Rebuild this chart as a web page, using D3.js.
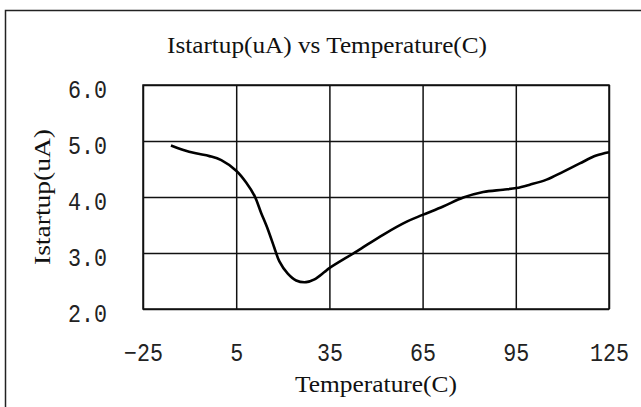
<!DOCTYPE html>
<html>
<head>
<meta charset="utf-8">
<script src="https://cdn.jsdelivr.net/npm/d3@7"></script>
<style>
  html, body { margin: 0; padding: 0; background: #fff; }
  svg { display: block; }
</style>
</head>
<body>
<svg id="chart" width="641" height="407"></svg>
<script>
// ---- data ----
const chartTitle = "Istartup(uA) vs Temperature(C)";
const xTitle = "Temperature(C)";
const yTitle = "Istartup(uA)";
const xTicks = [-25, 5, 35, 65, 95, 125];
const yTicks = [2, 3, 4, 5, 6];
const temperature = [-16, -12, -8, -3.6, 0.2, 5, 8.2, 10.9, 13, 15.2, 17.3, 18.9, 21.6, 24.3, 27.5, 30.2, 33.4, 35, 43.8, 52.4, 59.9, 65, 71.6, 78.1, 84.5, 90.9, 95.2, 99.5, 104.9, 110.2, 115.6, 120.9, 125];
const istartup = [4.92, 4.84, 4.78, 4.73, 4.66, 4.47, 4.26, 4.02, 3.72, 3.42, 3.09, 2.85, 2.63, 2.51, 2.48, 2.53, 2.66, 2.73, 3.03, 3.33, 3.56, 3.68, 3.83, 3.99, 4.09, 4.13, 4.16, 4.22, 4.31, 4.45, 4.60, 4.74, 4.80];

// ---- layout ----
const svg = d3.select("#chart");
const L = 143, R = 609, T = 85, B = 309;
const x = d3.scaleLinear().domain([-25, 125]).range([L, R]);
const y = d3.scaleLinear().domain([2, 6]).range([B, T]);

// outer frame (only top and left edges visible)
svg.append("path")
  .attr("d", "M5.5,407 L5.5,10.5 L641,10.5")
  .attr("fill", "none").attr("stroke", "#222").attr("stroke-width", 1.5);

// title
svg.append("text")
  .attr("x", 327).attr("y", 53)
  .attr("text-anchor", "middle")
  .attr("font-family", "Liberation Serif, serif")
  .attr("font-size", 23)
  .attr("textLength", 320).attr("lengthAdjust", "spacingAndGlyphs")
  .attr("fill", "#111")
  .text(chartTitle);

// grid + axes
const gx = svg.append("g").attr("transform", `translate(0,${B})`)
  .call(d3.axisBottom(x).tickValues(xTicks).tickSize(-(B - T)).tickPadding(34).tickFormat(d3.format("d")));
const gy = svg.append("g").attr("transform", `translate(${L},0)`)
  .call(d3.axisLeft(y).tickValues(yTicks).tickSize(-(R - L)).tickPadding(36).tickFormat(d3.format(".1f")));

[gx, gy].forEach(g => {
  g.select(".domain").remove();
  g.selectAll(".tick line").attr("stroke", "#111").attr("stroke-width", 1.5);
  g.selectAll(".tick text")
    .attr("fill", "#222")
    .attr("font-family", "Liberation Mono, DejaVu Sans Mono, monospace")
    .attr("font-size", 25)
    .attr("lengthAdjust", "spacingAndGlyphs")
    .attr("textLength", function() { return this.textContent.length * 13; });
});
gy.selectAll(".tick text").attr("dy", "0.36em").attr("y", 3);
gx.selectAll(".tick text").attr("dy", "0em").attr("y", 361 - B);

// plot border
svg.append("rect")
  .attr("x", L).attr("y", T).attr("width", R - L).attr("height", B - T)
  .attr("fill", "none").attr("stroke", "#111").attr("stroke-width", 1.5);

// curve
const pts = temperature.map((t, i) => [t, istartup[i]]);
svg.append("path")
  .datum(pts)
  .attr("fill", "none")
  .attr("stroke", "#000")
  .attr("stroke-width", 2.6)
  .attr("stroke-linejoin", "round")
  .attr("d", d3.line().x(d => x(d[0])).y(d => y(d[1])).curve(d3.curveCatmullRom.alpha(0.5)));

// axis titles
svg.append("text")
  .attr("x", 376).attr("y", 392)
  .attr("text-anchor", "middle")
  .attr("font-family", "Liberation Serif, serif")
  .attr("font-size", 23)
  .attr("textLength", 162).attr("lengthAdjust", "spacingAndGlyphs")
  .attr("fill", "#111")
  .text(xTitle);

svg.append("text")
  .attr("transform", `translate(50,${(T + B) / 2}) rotate(-90)`)
  .attr("text-anchor", "middle")
  .attr("font-family", "Liberation Serif, serif")
  .attr("font-size", 23)
  .attr("textLength", 136).attr("lengthAdjust", "spacingAndGlyphs")
  .attr("fill", "#111")
  .text(yTitle);
</script>
</body>
</html>
